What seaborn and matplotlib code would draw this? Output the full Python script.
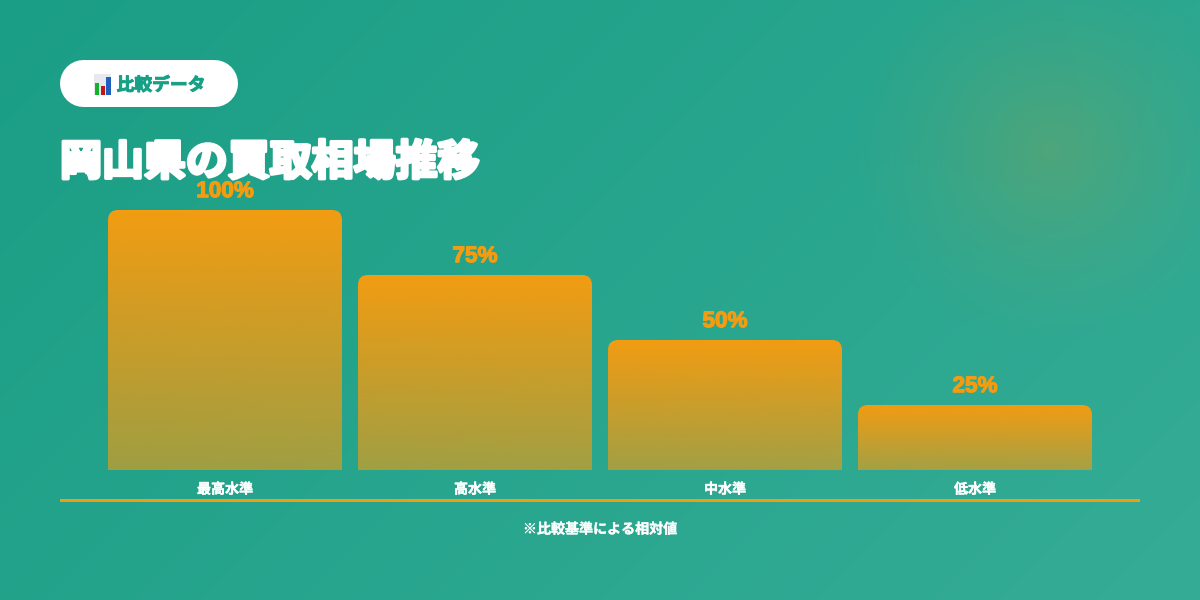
import numpy as np
import pandas as pd
import matplotlib
matplotlib.use("Agg")
import matplotlib.pyplot as plt
import matplotlib.patheffects as pe
from matplotlib.patches import FancyBboxPatch, Rectangle
import seaborn as sns

# values
levels = ["最高水準", "高水準", "中水準", "低水準"]
values = [100, 75, 50, 25]
title = "岡山県の買取相場推移"
badge = "比較データ"
note = "※比較基準による相対値"

orange = "#f39c12"
jp = ["Noto Sans CJK JP", "DejaVu Sans"]

sns.set_theme(style="white")
plt.rcParams["font.family"] = jp

fig = plt.figure(figsize=(12, 6), dpi=100)

# background: diagonal gradient + soft orange glow top right
bg = fig.add_axes([0, 0, 1, 1], zorder=0)
px, py = np.meshgrid(np.arange(1200) + 0.5, np.arange(600) + 0.5)
t = (px + py) / 1800
c0 = np.array([0x1a, 0x9e, 0x85]) / 255
c1 = np.array([0x35, 0xac, 0x96]) / 255
img = c0 + (c1 - c0) * t[..., None]
d = np.hypot(px - 1050, py - 150) / 200
glow = np.clip(1 - d, 0, 1)[..., None] ** 1.3 * 0.17
img = img * (1 - glow) + np.array([0xf3, 0x9c, 0x12]) / 255 * glow
bg.imshow(img, aspect="auto", extent=(0, 1200, 600, 0), interpolation="bilinear")
bg.set_xlim(0, 1200)
bg.set_ylim(600, 0)
bg.axis("off")

# bars: y 0-100 spans pixels 470 -> 210, each category is 250px wide
ax = fig.add_axes([100 / 1200, 130 / 600, 1000 / 1200, 260 / 600], zorder=1)
ax.patch.set_alpha(0)
df = pd.DataFrame({"level": levels, "value": values})
sns.barplot(data=df, x="level", y="value", width=234 / 250, color=orange, ax=ax)
ax.set_xlim(-0.5, 3.5)
ax.set_ylim(0, 100)
ax.set_xlabel("")
ax.set_ylabel("")
ax.set_yticks([])
sns.despine(ax=ax, left=True, bottom=True)
ax.tick_params(axis="x", length=0, pad=9)
for lab in ax.get_xticklabels():
    lab.set_color("white")
    lab.set_fontsize(10.1)
    lab.set_fontweight("bold")
    lab.set_path_effects([pe.withStroke(linewidth=0.3, foreground="white")])

# swap each bar for a rounded one with a fading fill
grad = np.zeros((256, 1, 4))
grad[..., :3] = matplotlib.colors.to_rgb(orange)
grad[..., 3] = np.linspace(1, 0.6, 256)[:, None]
for bar, v in zip(list(ax.patches), values):
    x, w = bar.get_x(), bar.get_width()
    bar.set_visible(False)
    clip = FancyBboxPatch((x, -20), w, v + 20,
                          boxstyle="round,pad=0,rounding_size=0.04",
                          mutation_aspect=96.15, transform=ax.transData,
                          fc="none", ec="none")
    ax.add_patch(clip)
    im = ax.imshow(grad, aspect="auto", extent=(x, x + w, 0, v), interpolation="bilinear")
    im.set_clip_path(clip)
    ax.annotate(f"{v}%", (x + w / 2, v), xytext=(0, 15), textcoords="offset points",
                ha="center", va="center_baseline", color=orange, fontsize=16.2, fontweight="bold",
                family=["Liberation Sans", "DejaVu Sans"],
                path_effects=[pe.withStroke(linewidth=0.9, foreground=orange)])
ax.set_xlim(-0.5, 3.5)
ax.set_ylim(0, 100)

# overlay in pixel coords
top = fig.add_axes([0, 0, 1, 1], zorder=2)
top.set_xlim(0, 1200)
top.set_ylim(600, 0)
top.axis("off")

# pill badge
top.plot([83.5, 214.5], [83.5, 83.5], color="white", lw=47 * 0.72, solid_capstyle="round",
         zorder=0.5, snap=False)

# chart emoji
top.add_patch(Rectangle((94, 74), 17, 21, fc="#e6e9ee", ec="none"))
top.add_patch(Rectangle((95, 83), 4, 12, fc="#12b32a", ec="none"))
top.add_patch(Rectangle((100.5, 86), 4, 9, fc="#c01818", ec="none"))
top.add_patch(Rectangle((106, 77), 4.5, 18, fc="#1f5fc0", ec="none"))

top.text(161, 85.5, badge, ha="center", va="center", color="#16a085", fontsize=12.8, fontweight="bold",
         path_effects=[pe.withStroke(linewidth=0.7, foreground="#16a085")])

top.text(60, 163, title, ha="left", va="center", color="white", fontsize=30.2, fontweight="bold",
         path_effects=[pe.withStroke(linewidth=2.4, foreground="white")])

top.add_patch(Rectangle((60, 499), 1080, 3, fc=orange, ec="none"))

top.text(600, 529.5, note, ha="center", va="center", color="white", alpha=0.92, fontsize=10.1, fontweight="bold",
         path_effects=[pe.withStroke(linewidth=0.3, foreground="white", alpha=0.9)])

fig.savefig("out.png", dpi=100)
